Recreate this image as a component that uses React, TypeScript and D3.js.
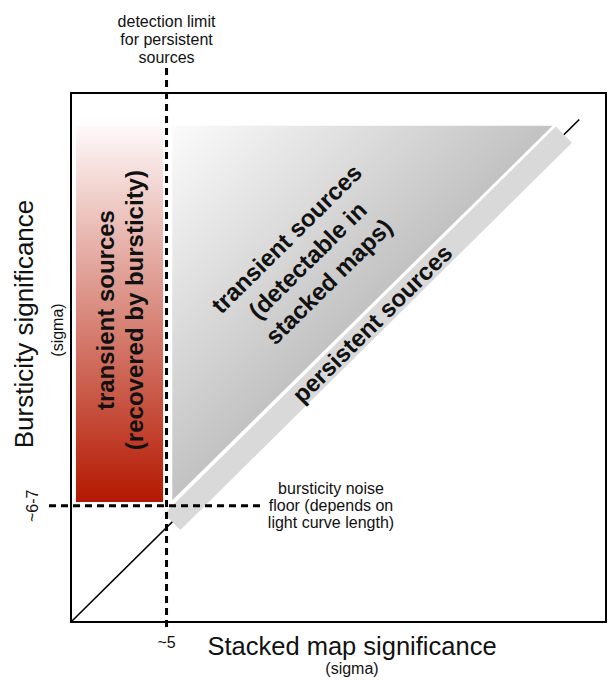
import React from "react";
import * as d3 from "d3";

const W = 609;
const H = 681;

// schematic axes (sigma units)
const xDomain = [0, 28];
const yDomain = [0, 28];
const persistentDetectionLimit = 5;
const burstNoiseFloor = 6.15;
const xTickLabels = ["~5"];
const yTickLabels = ["~6-7"];

// regions (data units)
const recoveredRegionX = [0.26, 4.82];
const recoveredRegionY = [6.35, 26.3];
const stackedRegionX = [5.3, 25.2];
const stackedRegionY = [6.45, 26.26];
const persistentBand = [5.3, 25.8];
const diagonalRange = [0, 26.6];
const detectionLineY = [-0.42, 29.32];
const noiseLineX = [-1.15, 10.0];

// texts
const xTitle = "Stacked map significance";
const yTitle = "Bursticity significance";
const unitLabel = "(sigma)";
const detectionLimitLabel = ["detection limit", "for persistent", "sources"];
const noiseFloorLabel = ["bursticity noise", "floor (depends on", "light curve length)"];
const recoveredLabel = ["transient sources", "(recovered by bursticity)"];
const stackedLabel = ["transient sources", "(detectable in", "stacked maps)"];
const persistentLabel = "persistent sources";

// label anchor positions (data units)
const recoveredLabelPos = [2.25, 16.51];
const stackedLabelPos = [12.69, 18.84];
const persistentLabelPos = 15.78;

const FONT = "'Liberation Sans', Arial, Helvetica, sans-serif";

export default function App() {
  const x = d3.scaleLinear().domain(xDomain).range([71, 606]);
  const y = d3.scaleLinear().domain(yDomain).range([622, 93]);

  // band polygon along diagonal
  const p0 = [x(persistentBand[0]), y(persistentBand[0])];
  const p1 = [x(persistentBand[1]), y(persistentBand[1])];
  const len = Math.hypot(p1[0] - p0[0], p1[1] - p0[1]);
  const u = [(p1[0] - p0[0]) / len, (p1[1] - p0[1]) / len];
  const n = [-u[1], u[0]];
  const hw = 11.5;
  const bandPts = [
    [p0[0] + n[0] * hw, p0[1] + n[1] * hw],
    [p1[0] + n[0] * hw, p1[1] + n[1] * hw],
    [p1[0] - n[0] * hw, p1[1] - n[1] * hw],
    [p0[0] - n[0] * hw, p0[1] - n[1] * hw],
  ];
  const angle = (Math.atan2(u[1], u[0]) * 180) / Math.PI;

  const tri = [
    [x(stackedRegionX[0]), y(stackedRegionY[1])],
    [x(stackedRegionX[1]), y(stackedRegionY[1])],
    [x(stackedRegionX[0]), y(stackedRegionY[0])],
  ];
  const line = d3.line();

  const pl = [x(persistentLabelPos), y(persistentLabelPos)];

  return (
    <svg
      width={W}
      height={H}
      style={{ position: "absolute", left: 0, top: 0, background: "#fff" }}
      fontFamily={FONT}
    >
      <defs>
        <linearGradient id="redGrad" x1="0" y1="0" x2="0" y2="1">
          <stop offset="0" stopColor="#fefafa" />
          <stop offset="1" stopColor="#b41800" />
        </linearGradient>
        <linearGradient id="grayGrad" x1="0" y1="0" x2="0.5" y2="0.5">
          <stop offset="0" stopColor="#fbfbfb" />
          <stop offset="1" stopColor="#c2c2c2" />
        </linearGradient>
      </defs>

      {/* frame */}
      <rect x={71} y={93} width={535} height={529} fill="none" stroke="#000" strokeWidth={2} />

      {/* recovered by burstiness region */}
      <rect
        x={x(recoveredRegionX[0])}
        y={y(recoveredRegionY[1])}
        width={x(recoveredRegionX[1]) - x(recoveredRegionX[0])}
        height={y(recoveredRegionY[0]) - y(recoveredRegionY[1])}
        fill="url(#redGrad)"
      />

      {/* stacked map region */}
      <path d={line(tri as any) + "Z"} fill="url(#grayGrad)" />

      {/* diagonal */}
      <line
        x1={x(diagonalRange[0])}
        y1={y(diagonalRange[0])}
        x2={x(diagonalRange[1])}
        y2={y(diagonalRange[1])}
        stroke="#000"
        strokeWidth={1.6}
      />

      {/* persistent band */}
      <path d={line(bandPts as any) + "Z"} fill="#d9d9d9" />

      {/* dashed lines */}
      <line
        x1={x(persistentDetectionLimit)}
        x2={x(persistentDetectionLimit)}
        y1={y(detectionLineY[1])}
        y2={y(detectionLineY[0])}
        stroke="#000"
        strokeWidth={3}
        strokeDasharray="7,5"
      />
      <line
        x1={x(noiseLineX[0])}
        x2={x(noiseLineX[1])}
        y1={y(burstNoiseFloor)}
        y2={y(burstNoiseFloor)}
        stroke="#000"
        strokeWidth={3}
        strokeDasharray="7,5"
      />

      {/* region labels */}
      <text
        transform={`translate(${x(recoveredLabelPos[0])},${y(recoveredLabelPos[1])}) rotate(-90)`}
        textAnchor="middle"
        fontWeight="bold"
        fontSize={24}
        fill="#111"
      >
        {recoveredLabel.map((t, i) => (
          <tspan key={i} x={0} y={i * 29}>
            {t}
          </tspan>
        ))}
      </text>

      <text
        transform={`translate(${x(stackedLabelPos[0])},${y(stackedLabelPos[1])}) rotate(${angle})`}
        textAnchor="middle"
        fontWeight="bold"
        fontSize={24}
        fill="#111"
      >
        {stackedLabel.map((t, i) => (
          <tspan key={i} x={0} y={(i - 1) * 30}>
            {t}
          </tspan>
        ))}
      </text>

      <text
        transform={`translate(${pl[0]},${pl[1]}) rotate(${angle})`}
        textAnchor="middle"
        fontWeight="bold"
        fontSize={24}
        fill="#111"
        y={8}
      >
        {persistentLabel}
      </text>

      {/* annotations */}
      <text textAnchor="middle" fontSize={16} fill="#111">
        {detectionLimitLabel.map((t, i) => (
          <tspan key={i} x={x(persistentDetectionLimit)} y={27 + i * 18}>
            {t}
          </tspan>
        ))}
      </text>
      <text textAnchor="middle" fontSize={16} fill="#111">
        {noiseFloorLabel.map((t, i) => (
          <tspan key={i} x={331} y={494 + i * 17}>
            {t}
          </tspan>
        ))}
      </text>

      {/* tick labels */}
      <text x={x(persistentDetectionLimit)} y={648} textAnchor="middle" fontSize={16} fill="#111">
        {xTickLabels[0]}
      </text>
      <text
        transform={`translate(38,${y(burstNoiseFloor)}) rotate(-90)`}
        textAnchor="middle"
        fontSize={16}
        fill="#111"
      >
        {yTickLabels[0]}
      </text>

      {/* axis titles */}
      <text x={352} y={655} textAnchor="middle" fontSize={25.5} fill="#111">
        {xTitle}
      </text>
      <text x={352} y={674} textAnchor="middle" fontSize={16} fill="#111">
        {unitLabel}
      </text>
      <text transform="translate(33,324) rotate(-90)" textAnchor="middle" fontSize={26} fill="#111">
        {yTitle}
      </text>
      <text transform="translate(63,330) rotate(-90)" textAnchor="middle" fontSize={16} fill="#111">
        {unitLabel}
      </text>
    </svg>
  );
}
